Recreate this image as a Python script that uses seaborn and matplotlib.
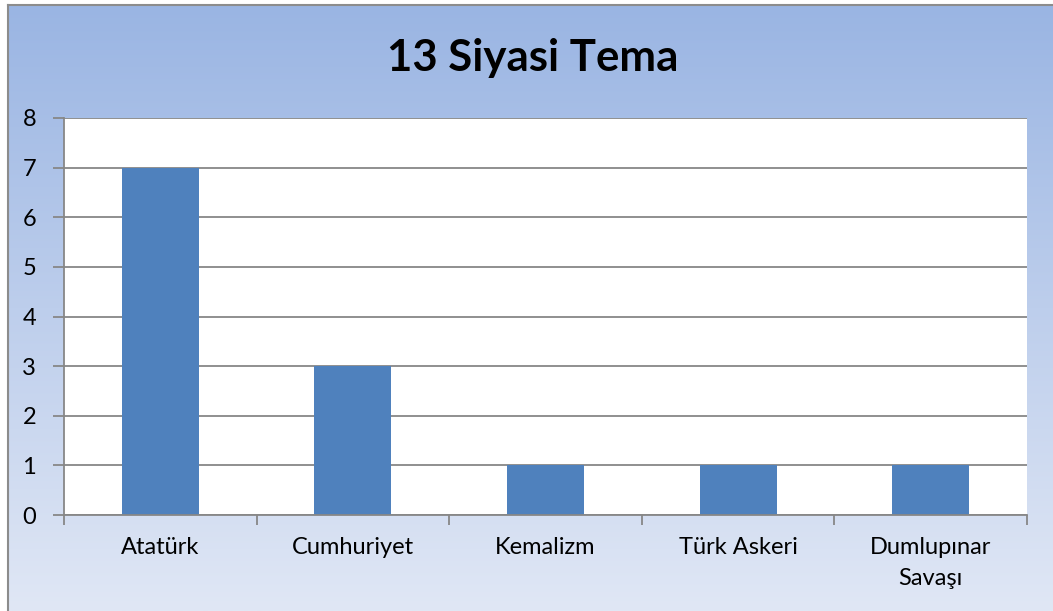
import numpy as np
import matplotlib
matplotlib.use("Agg")
import matplotlib.pyplot as plt
import seaborn as sns

# %% Data
categories = ["Atatürk", "Cumhuriyet", "Kemalizm", "Türk Askeri", "Dumlupınar\nSavaşı"]
values = [7, 3, 1, 1, 1]
title = "13 Siyasi Tema"

# %% Style
sns.set_theme(style="white")
plt.rcParams["font.family"] = ["Lato", "DejaVu Sans"]

W, H = 1053, 611
fig = plt.figure(figsize=(W / 100, H / 100), dpi=100)
fig.patch.set_facecolor("white")

# gradient background of the chart area
bg = fig.add_axes([8 / W, 0, 1 - 8 / W, 1 - 5 / H])
top = np.array([154, 181, 227]) / 255
bottom = np.array([224, 231, 245]) / 255
t = np.linspace(0, 1, 256)[:, None]
grad = top[None, :] * (1 - t) + bottom[None, :] * t
bg.imshow(grad[:, None, :], aspect="auto", extent=[0, 1, 0, 1])
bg.set_xticks([])
bg.set_yticks([])
for side in ["right", "bottom"]:
    bg.spines[side].set_visible(False)
for side in ["left", "top"]:
    bg.spines[side].set_color("#8c8c8c")
    bg.spines[side].set_linewidth(1.5)

fig.text(533 / W, 1 - 58 / H, title, ha="center", va="center",
         fontsize=31.5, fontweight="bold", color="black")

# %% Bars
ax = fig.add_axes([64 / W, (H - 515) / H, (1027 - 64) / W, (515 - 118) / H])
ax.set_facecolor("white")
sns.barplot(x=categories, y=values, color="#4f81bd", width=0.4,
            saturation=1, linewidth=0, ax=ax)
ax.set_xlim(-0.5, len(categories) - 0.5)
ax.set_ylim(0, 8)
ax.set_yticks(range(0, 9))
ax.yaxis.grid(True, color="#878787", linewidth=1.3)
ax.set_axisbelow(True)
for side in ["top", "right"]:
    ax.spines[side].set_visible(False)
for side in ["left", "bottom"]:
    ax.spines[side].set_color("#878787")
    ax.spines[side].set_linewidth(1.3)

ax.set_xticks(np.arange(-0.5, len(categories)), minor=True)
ax.tick_params(axis="x", which="major", length=0, pad=16, labelsize=17, colors="black")
ax.tick_params(axis="x", which="minor", length=7, width=1.3, color="#878787", direction="out", bottom=True)
ax.tick_params(axis="y", length=8, width=1.3, color="#878787", direction="out", left=True,
               pad=12, labelsize=17, labelcolor="black")
for lab in ax.get_xticklabels():
    lab.set_linespacing(1.6)
ax.set_xlabel("")
ax.set_ylabel("")

fig.savefig("out.png", dpi=100)
